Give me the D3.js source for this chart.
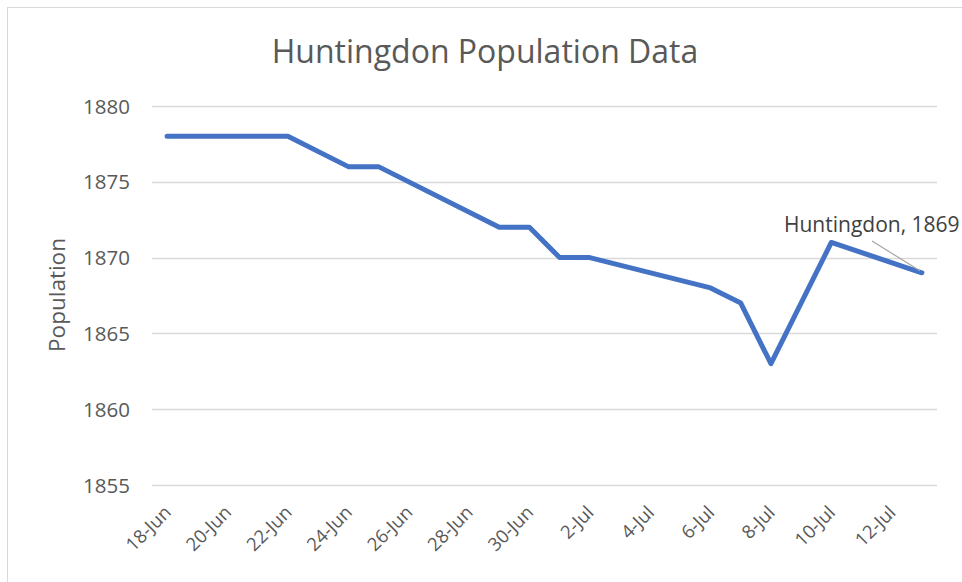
<!DOCTYPE html>
<html><head><meta charset="utf-8">
<script src="https://cdn.jsdelivr.net/npm/d3@7"></script>
<style>body{margin:0;background:#fff}svg{display:block}</style>
</head><body>
<script>
const dates = ["2023-06-18","2023-06-22","2023-06-24","2023-06-25","2023-06-29","2023-06-30","2023-07-01","2023-07-02","2023-07-06","2023-07-07","2023-07-08","2023-07-10","2023-07-13"];
const population = [1878,1878,1876,1876,1872,1872,1870,1870,1868,1867,1863,1871,1869];
const yTicks = [1855,1860,1865,1870,1875,1880];
const xTickDates = ["2023-06-18","2023-06-20","2023-06-22","2023-06-24","2023-06-26","2023-06-28","2023-06-30","2023-07-02","2023-07-04","2023-07-06","2023-07-08","2023-07-10","2023-07-12"];
const title = "Huntingdon Population Data";
const yTitle = "Population";
const annotation = "Huntingdon, 1869";

const W=962,H=582;
const parse=d3.timeParse("%Y-%m-%d");
const fmt=d3.timeFormat("%-d-%b");
const data=dates.map((d,i)=>({date:parse(d),v:population[i]}));
const font="'Open Sans', 'Noto Sans', sans-serif";

const svg=d3.select("body").append("svg").attr("width",W).attr("height",H);
svg.append("rect").attr("x",7.5).attr("y",7.5).attr("width",W).attr("height",H).attr("fill","#fff").attr("stroke","#d9d9d9");

const half=12*3600*1000;
const x=d3.scaleTime().domain([new Date(parse(dates[0]).getTime()-half), new Date(parse(dates[dates.length-1]).getTime()+half)]).range([152,937]);
const y=d3.scaleLinear().domain([1855,1880]).range([485,106]);

// gridlines
svg.append("g").selectAll("line").data(yTicks).join("line")
 .attr("x1",152).attr("x2",937).attr("y1",d=>Math.round(y(d))+0.5).attr("y2",d=>Math.round(y(d))+0.5)
 .attr("stroke","#d9d9d9").attr("stroke-width",1.3);

// y axis
const ya=svg.append("g").attr("transform","translate(140,0)")
 .call(d3.axisLeft(y).tickValues(yTicks).tickFormat(d3.format("d")).tickSize(0).tickPadding(0));
ya.select(".domain").remove();
ya.selectAll("text").attr("font-family",font).attr("font-size",20.5).attr("fill","#595959").attr("dy","0.35em").attr("x",-10);

// x axis
const xa=svg.append("g").attr("transform","translate(0,493)")
 .call(d3.axisBottom(x).tickValues(xTickDates.map(parse)).tickFormat(fmt).tickSize(0));
xa.select(".domain").remove();
xa.selectAll("text").attr("font-family",font).attr("font-size",18.5).attr("fill","#595959")
 .attr("text-anchor","end").attr("dy","0.35em").attr("dx",0).attr("y",0)
 .attr("transform","translate(0,16) rotate(-45)");

// line
svg.append("path").datum(data)
 .attr("d",d3.line().x(d=>x(d.date)).y(d=>y(d.v)))
 .attr("fill","none").attr("stroke","#4472C4").attr("stroke-width",5)
 .attr("stroke-linejoin","round").attr("stroke-linecap","round");

// title
svg.append("text").attr("x",485).attr("y",63).attr("text-anchor","middle")
 .attr("font-family",font).attr("font-size",32).attr("fill","#595959").text(title);

// y title
svg.append("text").attr("transform","translate(65,295) rotate(-90)").attr("text-anchor","middle")
 .attr("font-family",font).attr("font-size",22.5).attr("fill","#595959").text(yTitle);

// annotation
const last=data[data.length-1];
svg.append("line").attr("x1",872).attr("y1",241).attr("x2",x(last.date)-2).attr("y2",y(last.v)-2)
 .attr("stroke","#a6a6a6").attr("stroke-width",1.2);
svg.append("text").attr("x",784).attr("y",232).attr("font-family",font).attr("font-size",21).attr("fill","#404040").text(annotation);
</script>
</body></html>
